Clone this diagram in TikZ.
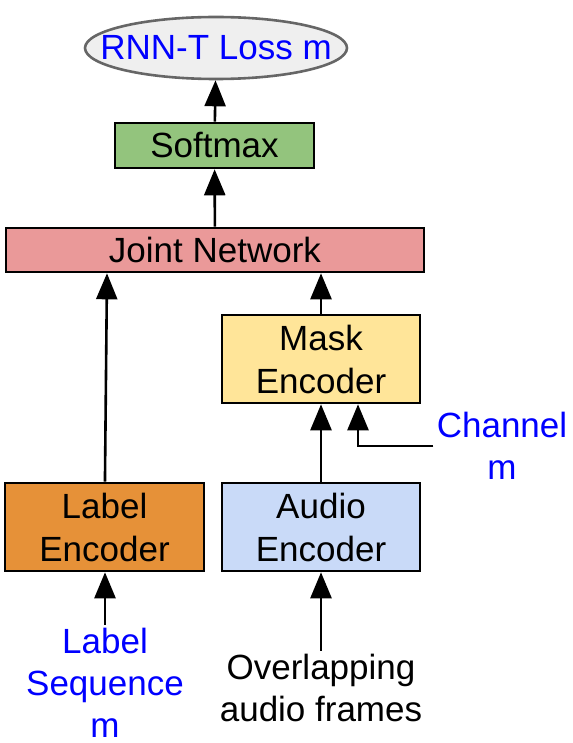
\documentclass[tikz,border=0pt]{standalone}
\usepackage{fontspec}
\setmainfont{Liberation Sans}
\usetikzlibrary{arrows.meta,shapes.geometric}
\definecolor{lossgray}{HTML}{EFEFEF}
\definecolor{softgreen}{HTML}{93C47D}
\definecolor{jointred}{HTML}{EA9999}
\definecolor{maskyellow}{HTML}{FFE599}
\definecolor{labelorange}{HTML}{E69138}
\definecolor{audioblue}{HTML}{C9DAF8}

\begin{document}
\begin{tikzpicture}[x=1pt,y=-1pt,
    box/.style={draw,line width=2.6pt,align=center,inner sep=0pt,
      font=\fontsize{35}{43}\selectfont},
    arr/.style={line width=2.6pt,-{Triangle[width=21pt,length=26pt]}},
    txt/.style={align=center,font=\fontsize{35}{42}\selectfont}]

    \useasboundingbox (0,0) rectangle (572,743);

    \node[ellipse,draw=black!60,line width=2.6pt,fill=lossgray,inner sep=0pt,
      minimum width=262pt,minimum height=62pt,text=blue,
      font=\fontsize{35}{43}\selectfont] (loss) at (216,48) {\makebox[0pt]{RNN-T Loss m}};
    \node[box,fill=softgreen,minimum width=199pt,minimum height=45pt] (softmax) at (214.5,145.5) {Softmax};
    \node[box,fill=jointred,minimum width=418pt,minimum height=44pt] (joint) at (215,250) {Joint Network};
    \node[box,fill=maskyellow,minimum width=198pt,minimum height=88pt] (mask) at (321,359) {Mask\\Encoder};
    \node[box,fill=labelorange,minimum width=199pt,minimum height=88pt] (label) at (104.5,527) {Label\\Encoder};
    \node[box,fill=audioblue,minimum width=198pt,minimum height=88pt] (audio) at (321,527) {Audio\\Encoder};

    \node[txt,text=blue] (channel) at (502,446) {Channel\\m};
    \node[txt,text=blue] (seq) at (105,683) {Label\\Sequence\\m};
    \node[txt] (frames) at (321,688) {Overlapping\\audio frames};

    \draw[arr] (softmax) -- (loss);
    \draw[arr] (joint) -- (softmax);
    \draw[arr] (label) -- ([xshift=-108pt]joint.south);
    \draw[arr] (mask.north) -- (mask.north |- joint.south);
    \draw[arr] (audio) -- (mask);
    \draw[arr] (channel.west) -| ([xshift=37pt]mask.south);
    \draw[arr] (seq) -- (seq |- label.south);
    \draw[arr] (frames) -- (frames |- audio.south);

\end{tikzpicture}
\end{document}
